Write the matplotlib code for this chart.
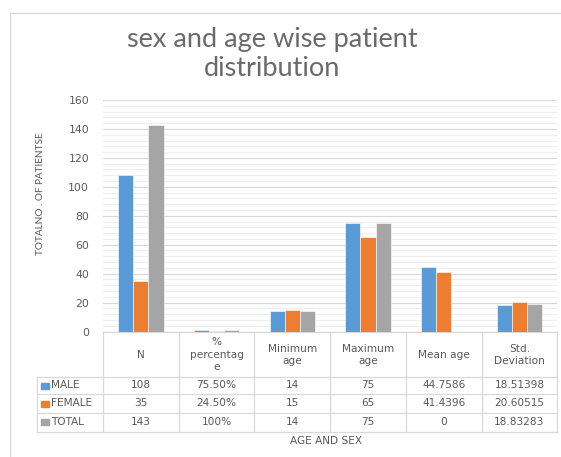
import matplotlib
matplotlib.use("Agg")
import matplotlib.pyplot as plt
import numpy as np
from matplotlib.patches import Rectangle

categories = ["N", "%\npercentag\ne", "Minimum\nage", "Maximum\nage", "Mean age", "Std.\nDeviation"]
series_names = ["MALE", "FEMALE", "TOTAL"]
male = [108, 0.755, 14, 75, 44.7586, 18.51398]
female = [35, 0.245, 15, 65, 41.4396, 20.60515]
total = [143, 1.0, 14, 75, 0, 18.83283]
male_labels = ["108", "75.50%", "14", "75", "44.7586", "18.51398"]
female_labels = ["35", "24.50%", "15", "65", "41.4396", "20.60515"]
total_labels = ["143", "100%", "14", "75", "0", "18.83283"]
colors = ["#5B9BD5", "#ED7D31", "#A5A5A5"]

title = "sex and age wise patient\ndistribution"
ylabel = "TOTALNO . OF PATIENTSE"
xlabel = "AGE AND SEX"

W, H = 561, 457
fig = plt.figure(figsize=(W / 100, H / 100), dpi=100)
plt.rcParams['font.family'] = ['DejaVu Sans']
txt = "#595959"
grid_major = "#D9D9D9"
grid_minor = "#EEEEEE"

def fx(x):
    return x / W

def fy(y):
    return 1 - y / H

# overlay axes in pixel coordinates for frame/table
ov = fig.add_axes([0, 0, 1, 1])
ov.set_xlim(0, W)
ov.set_ylim(H, 0)
ov.axis("off")
ov.plot([10, 10], [13, H + 5], color="#D9D9D9", lw=1)
ov.plot([10, W + 5], [13, 13], color="#D9D9D9", lw=1)

# main bar axes
L, R, T, B = 103, 557.3, 100, 331.5
ax = fig.add_axes([fx(L), fy(B), (R - L) / W, (B - T) / H])
x = np.arange(len(categories))
bw = 0.2
for k, (vals, c) in enumerate(zip([male, female, total], colors)):
    ax.bar(x + (k - 1) * bw, vals, width=bw, color=c, edgecolor="white", linewidth=0.4, zorder=3)
ax.set_xlim(-0.5, len(categories) - 0.5)
ax.set_ylim(0, 160)
ax.set_yticks(np.arange(0, 161, 20))
ax.set_yticks(np.arange(0, 161, 4), minor=True)
ax.grid(which="major", axis="y", color=grid_major, lw=0.9, zorder=1)
ax.grid(which="minor", axis="y", color=grid_minor, lw=0.8, zorder=0)
for s in ax.spines.values():
    s.set_visible(False)
ax.set_xticks([])
ax.tick_params(axis="y", which="both", length=0, pad=10, labelsize=7.8, labelcolor=txt)
ax.set_ylabel(ylabel, fontsize=7.2, color=txt, family=["Lato", "DejaVu Sans"])
ax.yaxis.set_label_coords((45 - L) / (R - L), (B - 194) / (B - T))
ax.set_facecolor("none")

# title
fig.text(fx(272), fy(54), title, ha="center", va="center", fontsize=19.5, color="#6A6A6A",
         linespacing=1.2, family=["Lato", "DejaVu Sans"])

# table
cols = np.linspace(L, R, len(categories) + 1)
rows = [331.7, 376.7, 394.3, 412.7, 431.7]
tleft = 36.7
lc = "#D9D9D9"
ov.plot([L, R], [rows[0], rows[0]], color=lc, lw=0.9)
for yv in rows[1:]:
    ov.plot([tleft, R], [yv, yv], color=lc, lw=0.9)
for xv in cols:
    ov.plot([xv, xv], [rows[0], rows[-1]], color=lc, lw=0.9)
ov.plot([tleft, tleft], [rows[1], rows[-1]], color=lc, lw=0.9)

fs = 7.6
for i, cat in enumerate(categories):
    cx = (cols[i] + cols[i + 1]) / 2
    ov.text(cx, (rows[0] + rows[1]) / 2 + 0.5, cat, ha="center", va="center", fontsize=fs,
            color=txt, linespacing=1.3)
for r, (name, labs, c) in enumerate(zip(series_names, [male_labels, female_labels, total_labels], colors)):
    cy = (rows[r + 1] + rows[r + 2]) / 2
    ov.add_patch(Rectangle((41, cy - 3), 8, 6, color=c))
    ov.text(51, cy, name, ha="left", va="center", fontsize=fs, color=txt)
    for i, lab in enumerate(labs):
        cx = (cols[i] + cols[i + 1]) / 2
        ov.text(cx, cy, lab, ha="center", va="center", fontsize=fs, color=txt)

ov.text(326, 441, xlabel, ha="center", va="center", fontsize=7.6, color=txt)

fig.savefig("out.png", dpi=100)
